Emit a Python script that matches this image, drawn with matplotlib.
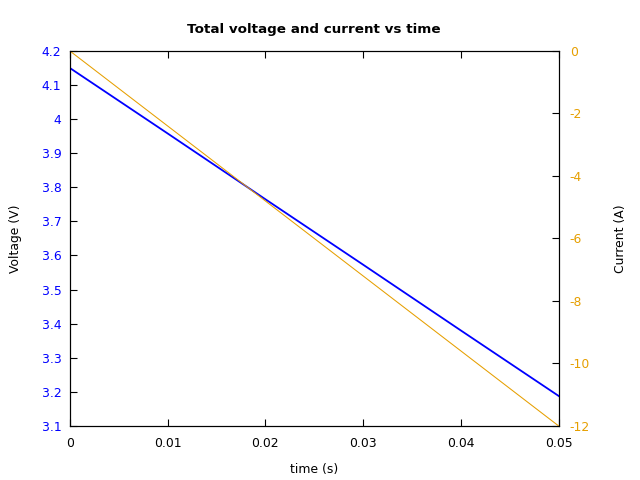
import numpy as np
import matplotlib
matplotlib.use('Agg')
import matplotlib.pyplot as plt
from matplotlib.ticker import FuncFormatter

plt.rcParams.update({'font.size': 8.9, 'axes.unicode_minus': False})

time = [0.0, 0.01, 0.02, 0.03, 0.04, 0.05]
voltage = [4.15, 3.958, 3.765, 3.573, 3.380, 3.188]
current = [0.0, -2.4, -4.8, -7.2, -9.6, -12.0]

fig = plt.figure(figsize=(6.4, 4.8), dpi=100)
ax0 = fig.add_axes([0.109, 0.1125, 0.764, 0.7815])
ax1 = ax0.twinx()

ax0.plot(time, voltage, color='#0000ff', lw=1.3)
ax1.plot(time, current, color='#e69f00', lw=0.75)

ax0.set_xlim(0, 0.05)
ax0.set_ylim(3.1, 4.2)
ax1.set_ylim(-12, 0)

ax0.set_xticks(np.arange(0, 0.051, 0.01))
ax0.set_yticks(np.arange(3.1, 4.21, 0.1))
ax1.set_yticks(np.arange(-12, 0.1, 2))
fmt = FuncFormatter(lambda v, p: '%g' % round(v, 3))
ax0.xaxis.set_major_formatter(fmt)
ax0.yaxis.set_major_formatter(fmt)
ax1.yaxis.set_major_formatter(fmt)

ax0.tick_params(axis='x', direction='in', top=True, length=5, pad=8, colors='black')
ax0.tick_params(axis='y', direction='in', length=5, pad=6, labelcolor='#0000ff')
ax1.tick_params(axis='y', direction='in', length=5, pad=8, labelcolor='#e69f00')

ax0.set_xlabel('time (s)', labelpad=9)
ax0.set_ylabel('Voltage (V)', labelpad=14)
ax1.set_ylabel('Current (A)', labelpad=17)
ax0.set_title('Total voltage and current vs time', fontweight='bold', fontsize=9.7, pad=13)

plt.savefig('out.png', dpi=100)
